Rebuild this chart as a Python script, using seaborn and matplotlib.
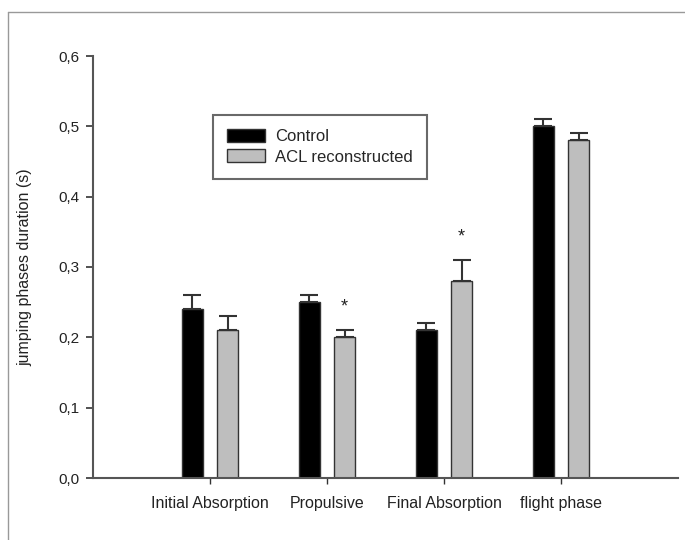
import matplotlib
matplotlib.use("Agg")
import matplotlib.pyplot as plt
import seaborn as sns
import pandas as pd
import numpy as np
from matplotlib.lines import Line2D

phases = ["Initial Absorption", "Propulsive", "Final Absorption", "flight phase"]
groups = ["Control", "ACL reconstructed"]
control_mean = [0.24, 0.25, 0.21, 0.50]
control_err = [0.02, 0.01, 0.01, 0.01]
acl_mean = [0.21, 0.20, 0.28, 0.48]
acl_err = [0.02, 0.01, 0.03, 0.01]
significant_acl = [False, True, True, False]
y_ticks = [0.0, 0.1, 0.2, 0.3, 0.4, 0.5, 0.6]
y_tick_labels = ["0,0", "0,1", "0,2", "0,3", "0,4", "0,5", "0,6"]
y_label = "jumping phases duration (s)"

df = pd.DataFrame({
    "phase": phases * 2,
    "group": [groups[0]] * 4 + [groups[1]] * 4,
    "value": control_mean + acl_mean,
    "err": control_err + acl_err,
})

sns.set_theme(style="white")
plt.rcParams["font.family"] = ["Liberation Sans", "DejaVu Sans"]

fig = plt.figure(figsize=(6.85, 5.40), dpi=100)
ax = fig.add_axes([93 / 685, 1 - 478 / 540, 585 / 685, 422 / 540])

palette = {"Control": "#000000", "ACL reconstructed": "#bebebe"}
sns.barplot(data=df, x="phase", y="value", hue="group", order=phases,
            hue_order=groups, palette=palette, errorbar=None,
            width=0.6, gap=0.4, saturation=1, ax=ax,
            edgecolor="#333333", linewidth=1.0)

# error bars (upper only) positioned from the bar patches
bars = [p for p in ax.patches if p.get_height() > 0]
bars_sorted = sorted(bars, key=lambda p: p.get_x())
err_lookup = {}
for i, ph in enumerate(phases):
    err_lookup[(i, 0)] = control_err[i]
    err_lookup[(i, 1)] = acl_err[i]
for p in bars_sorted:
    xc = p.get_x() + p.get_width() / 2
    cat = int(round(xc))
    grp = 0 if xc < cat else 1
    h = p.get_height()
    e = err_lookup[(cat, grp)]
    ax.errorbar(xc, h, yerr=[[0], [e]], fmt="none", ecolor="#333333",
                elinewidth=1.5, capsize=6.5, capthick=1.5, zorder=3)
    if grp == 1 and significant_acl[cat]:
        ax.text(xc, h + e + 0.033, "*", ha="center", va="center",
                fontsize=13, color="#222222")

ax.set_xlim(-1.0, 4.0)
ax.set_ylim(0, 0.6)
ax.set_yticks(y_ticks)
ax.set_yticklabels(y_tick_labels)
ax.set_xlabel("")
ax.set_ylabel(y_label, fontsize=11.5, color="#222222")
ax.yaxis.set_label_coords(-0.104, 0.5)

for side in ["top", "right"]:
    ax.spines[side].set_visible(False)
for side in ["left", "bottom"]:
    ax.spines[side].set_color("#555555")
    ax.spines[side].set_linewidth(1.5)

ax.tick_params(axis="y", direction="out", length=5, width=1.2, color="#333333",
               labelsize=11, pad=5, left=True, labelcolor="#222222")
ax.tick_params(axis="x", direction="out", length=4, width=1.0, color="#333333",
               labelsize=11.5, pad=9, bottom=True, labelcolor="#222222")

leg = ax.legend(loc="upper left", bbox_to_anchor=(0.205, 0.860), borderaxespad=0,
                fancybox=False, frameon=True, fontsize=12, handlelength=2.3,
                handleheight=0.8, handletextpad=0.6, borderpad=0.85,
                labelspacing=0.3)
leg.get_frame().set_edgecolor("#444444")
leg.get_frame().set_linewidth(1.5)
leg.set_title(None)

# figure border lines (top and left)
fig.add_artist(Line2D([8 / 685, 1.0], [1 - 12 / 540, 1 - 12 / 540],
                      transform=fig.transFigure, color="#999999", linewidth=1.0))
fig.add_artist(Line2D([8 / 685, 8 / 685], [0, 1 - 12 / 540],
                      transform=fig.transFigure, color="#999999", linewidth=1.0))

fig.savefig("out.png", dpi=100, facecolor="white")
